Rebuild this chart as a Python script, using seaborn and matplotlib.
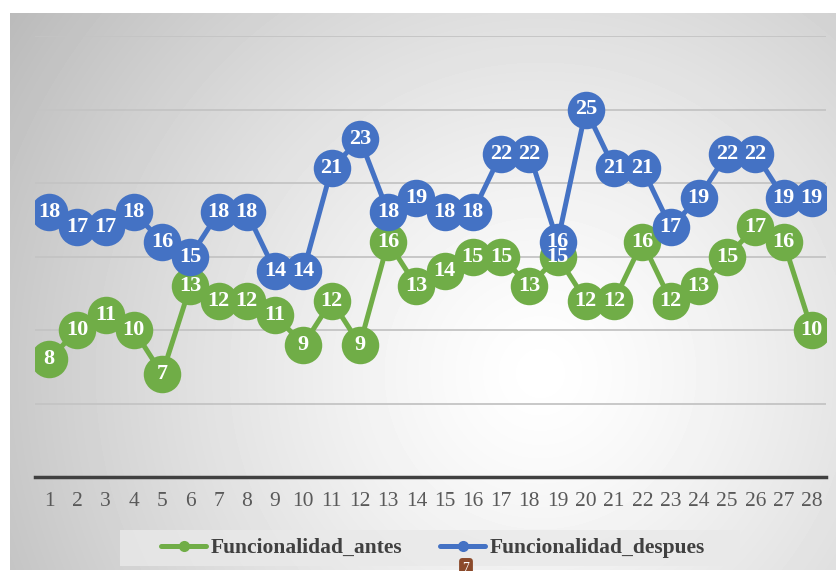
import matplotlib
matplotlib.use("Agg")
import matplotlib.pyplot as plt
import matplotlib.patches as mpatches
import numpy as np
import pandas as pd
import seaborn as sns

# datos
casos = list(range(1, 29))
antes = [8, 10, 11, 10, 7, 13, 12, 12, 11, 9, 12, 9, 16, 13, 14, 15, 15, 13, 15, 12, 12, 16, 12, 13, 15, 17, 16, 10]
despues = [18, 17, 17, 18, 16, 15, 18, 18, 14, 14, 21, 23, 18, 19, 18, 18, 22, 22, 16, 25, 21, 21, 17, 19, 22, 22, 19, 19]
series = ["Funcionalidad_antes", "Funcionalidad_despues"]
colores = ["#70AD47", "#4472C4"]

df = pd.DataFrame({"caso": casos, series[0]: antes, series[1]: despues})

sns.set_theme(style="white")
plt.rcParams["font.family"] = ["Liberation Serif", "DejaVu Serif"]

W, H = 837, 571
fig = plt.figure(figsize=(W / 100, H / 100), dpi=100)
fig.patch.set_facecolor("white")

# fondo con degradado radial
bg = fig.add_axes([10 / W, 1 - 570 / H, 827 / W, 557 / H], zorder=0)
yy, xx = np.mgrid[0:557, 0:827]
r = np.sqrt((xx - 530) ** 2 + (yy - 360) ** 2)
r = r / r.max()
grad = 1 - 0.27 * r ** 1.3
bg.imshow(grad, cmap="gray", vmin=0, vmax=1, aspect="auto", interpolation="bilinear")
bg.set_axis_off()

ax = fig.add_axes([35 / W, 1 - 477 / H, 791 / W, 441 / H], zorder=2)
ax.set_facecolor("none")

for s, c in zip(series, colores):
    sns.lineplot(data=df, x="caso", y=s, ax=ax, color=c, linewidth=3.6,
                 marker="o", markersize=27, markeredgewidth=0, label=s, zorder=3)

for s in series:
    for x, v in zip(df["caso"], df[s]):
        ax.text(x, v, str(v), color="white", fontsize=16, fontweight="bold",
                ha="center", va="center", zorder=5)

ax.set_xlim(0.5, 28.5)
ax.set_ylim(0, 30)
ax.set_yticks(np.arange(0, 31, 5))
ax.set_yticklabels([])
ax.set_xticks(casos)
ax.set_xticklabels([str(c) for c in casos])
ax.tick_params(axis="x", length=0, pad=11, labelsize=15.5, labelcolor="#595959")
ax.tick_params(axis="y", length=0)
ax.grid(axis="y", color="#c4c4c4", linewidth=1.3)
ax.grid(axis="x", visible=False)
ax.set_xlabel("")
ax.set_ylabel("")
for sp in ["top", "right", "left"]:
    ax.spines[sp].set_visible(False)
ax.spines["bottom"].set_color("#404040")
ax.spines["bottom"].set_linewidth(2.5)

# leyenda
handles, labels = ax.get_legend_handles_labels()
ax.get_legend().remove()
fig.patches.append(mpatches.Rectangle((120 / W, 1 - 566 / H), 620 / W, 36 / H,
                                      transform=fig.transFigure, facecolor="#e9e9e9",
                                      edgecolor="none", zorder=1, alpha=0.8))
leg = fig.legend(handles, labels, loc="center", bbox_to_anchor=(433 / W, 1 - 548 / H),
                 ncol=2, frameon=False, handlelength=2.1,
                 handletextpad=0.2, columnspacing=1.75,
                 prop={"weight": "bold", "size": 15.5})
for h in leg.legend_handles:
    h.set_markersize(8)
for t in leg.get_texts():
    t.set_color("#404040")

# etiqueta pequena al pie
fig.text(466 / W, 1 - 568 / H, "7", color="white", fontsize=10, ha="center", va="center",
         bbox=dict(boxstyle="round,pad=0.25", facecolor="#8B4A2B", edgecolor="none"), zorder=6)

fig.savefig("out.png", dpi=100)
